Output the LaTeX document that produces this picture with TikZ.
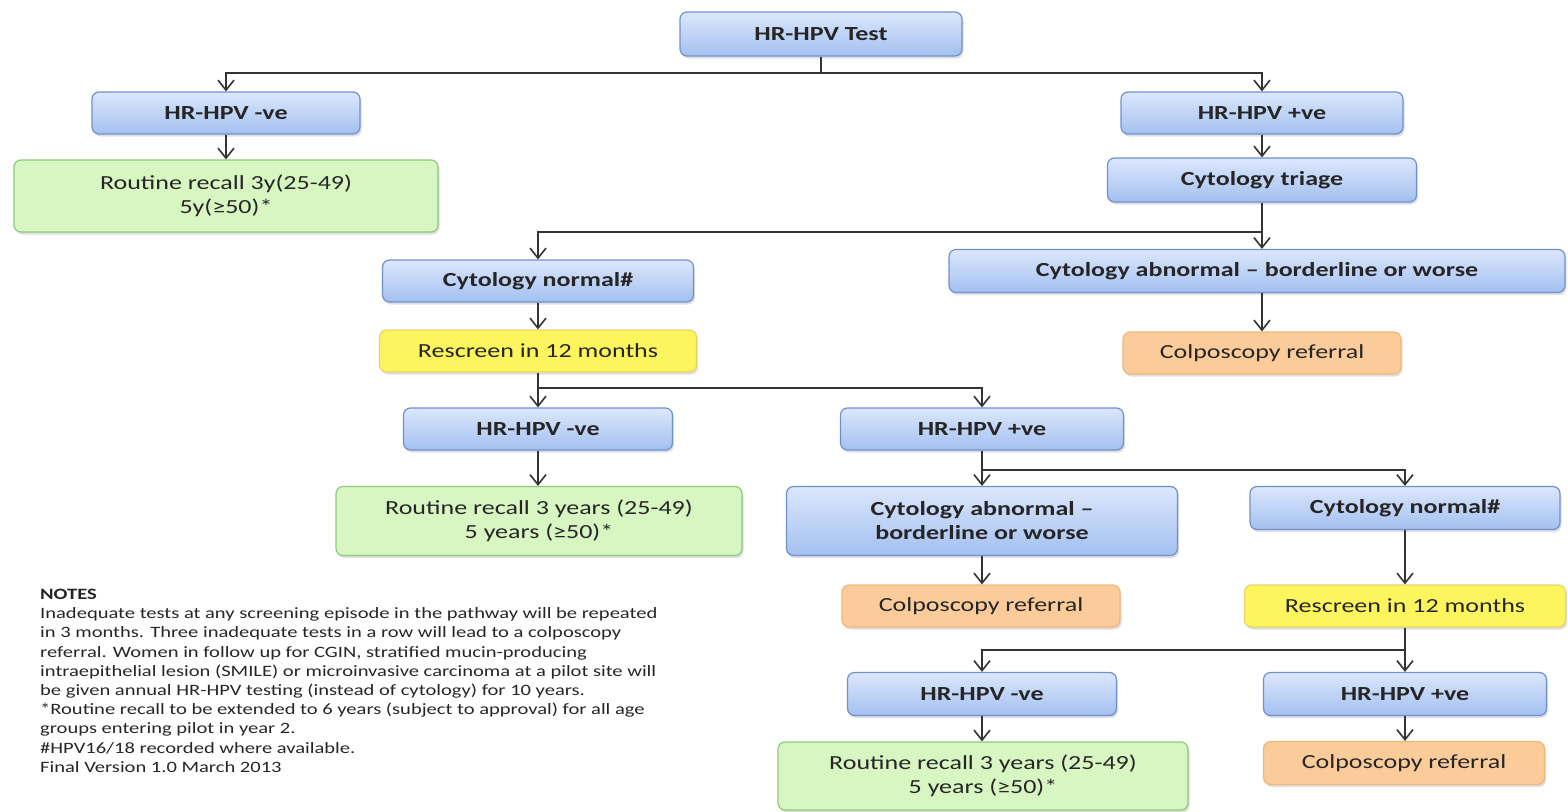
\documentclass[tikz,border=0pt]{standalone}
\usepackage{fontspec}
\setmainfont{Carlito}[FakeStretch=1.3]
\usetikzlibrary{arrows.meta,shadows}
\definecolor{txt}{HTML}{262626}
\definecolor{blueTop}{HTML}{DCE7FC}
\definecolor{blueBot}{HTML}{A3C0F0}
\definecolor{blueLine}{HTML}{6F90CE}
\definecolor{greenFill}{HTML}{D8F6C2}
\definecolor{greenLine}{HTML}{8CCB78}
\definecolor{yelFill}{HTML}{FDF55E}
\definecolor{yelLine}{HTML}{EBD36A}
\definecolor{orFill}{HTML}{FBCB99}
\definecolor{orLine}{HTML}{F1B778}
\definecolor{lineC}{HTML}{333333}
\tikzset{
  box/.style={rounded corners=7pt, line width=1.2pt, align=center, text=txt,
    inner sep=2pt, font=\fontsize{20}{24}\selectfont,
    drop shadow={shadow xshift=1.5pt, shadow yshift=-2.5pt, opacity=0.25}},
  bluebox/.style={box, draw=blueLine, top color=blueTop, bottom color=blueBot, font=\fontsize{20}{24}\selectfont\bfseries},
  greenbox/.style={box, draw=greenLine, fill=greenFill},
  yelbox/.style={box, draw=yelLine, fill=yelFill},
  orbox/.style={box, draw=orLine, fill=orFill},
  conn/.style={draw=lineC, line width=1.6pt},
  arr/.style={conn, -{Straight Barb[length=10pt,width=16pt,line width=1.6pt]}},
}
\begin{document}
\begin{tikzpicture}[x=1pt,y=-1pt]
\useasboundingbox (0,0) rectangle (1568,811);
% nodes
\node[bluebox, minimum width=282pt, minimum height=44pt] (test) at (821,34) {HR-HPV Test};
\node[bluebox, minimum width=268pt, minimum height=42pt] (neg1) at (226,113) {HR-HPV -ve};
\node[greenbox, minimum width=424pt, minimum height=72pt] (rr1) at (226,196) {Routine recall 3y(25-49)\\5y(≥50)*};
\node[bluebox, minimum width=282pt, minimum height=42pt] (pos1) at (1262,113) {HR-HPV +ve};
\node[bluebox, minimum width=309pt, minimum height=44pt] (triage) at (1262,180) {Cytology triage};
\node[bluebox, minimum width=311pt, minimum height=42pt] (cn1) at (538,281) {Cytology normal\#};
\node[bluebox, minimum width=616pt, minimum height=43pt] (abn1) at (1257,271) {Cytology abnormal – borderline or worse};
\node[orbox, minimum width=278pt, minimum height=42pt] (col1) at (1262,353) {Colposcopy referral};
\node[yelbox, minimum width=317pt, minimum height=42pt] (rs1) at (538,351) {Rescreen in 12 months};
\node[bluebox, minimum width=269pt, minimum height=42pt] (neg2) at (538,429) {HR-HPV -ve};
\node[greenbox, minimum width=406pt, minimum height=69pt] (rr2) at (539,521) {Routine recall 3 years (25-49)\\5 years (≥50)*};
\node[bluebox, minimum width=283pt, minimum height=42pt] (pos2) at (982,429) {HR-HPV +ve};
\node[bluebox, minimum width=391pt, minimum height=69pt] (abn2) at (982,521) {Cytology abnormal –\\borderline or worse};
\node[bluebox, minimum width=310pt, minimum height=43pt] (cn2) at (1405,508) {Cytology normal\#};
\node[orbox, minimum width=278pt, minimum height=42pt] (col2) at (981,606) {Colposcopy referral};
\node[yelbox, minimum width=321pt, minimum height=42pt] (rs2) at (1405,606) {Rescreen in 12 months};
\node[bluebox, minimum width=269pt, minimum height=43pt] (neg3) at (982,694) {HR-HPV -ve};
\node[greenbox, minimum width=410pt, minimum height=68pt] (rr3) at (983,776) {Routine recall 3 years (25-49)\\5 years (≥50)*};
\node[bluebox, minimum width=283pt, minimum height=43pt] (pos3) at (1405,694) {HR-HPV +ve};
\node[orbox, minimum width=281pt, minimum height=43pt] (col3) at (1404,763) {Colposcopy referral};
% notes
\node[anchor=north west, align=left, text=txt, inner sep=0pt,
  font=\fontsize{15.8}{19.2}\selectfont] (notes) at (40,589)
  {\textbf{NOTES}\\
  Inadequate tests at any screening episode in the pathway will be repeated\\
  in 3 months. Three inadequate tests in a row will lead to a colposcopy\\
  referral. Women in follow up for CGIN, stratified mucin-producing\\
  intraepithelial lesion (SMILE) or microinvasive carcinoma at a pilot site will\\
  be given annual HR-HPV testing (instead of cytology) for 10 years.\\
  *Routine recall to be extended to 6 years (subject to approval) for all age\\
  groups entering pilot in year 2.\\
  \#HPV16/18 recorded where available.\\
  Final Version 1.0 March 2013};
% junctions
\coordinate (j1) at (821,73);
\coordinate (j2) at (1262,232);
\coordinate (j3) at (538,388);
\coordinate (j4) at (982,470);
\coordinate (j5) at (1405,650);
% connectors
\draw[conn] (test.south) -- (j1);
\draw[arr] (j1) -| (neg1.north);
\draw[arr] (j1) -| (pos1.north);
\draw[arr] (neg1.south) -- (neg1.south|-rr1.north);
\draw[arr] (pos1.south) -- (pos1.south|-triage.north);
\draw[conn] (triage.south) -- (j2);
\draw[arr] (j2) -| (cn1.north);
\draw[arr] (j2) -- (j2|-abn1.north);
\draw[arr] (abn1.south-|col1.north) -- (col1.north);
\draw[arr] (cn1.south) -- (cn1.south|-rs1.north);
\draw[conn] (rs1.south) -- (j3);
\draw[arr] (j3) -- (j3|-neg2.north);
\draw[arr] (j3) -| (pos2.north);
\draw[arr] (neg2.south) -- (neg2.south|-rr2.north);
\draw[conn] (pos2.south) -- (j4);
\draw[arr] (j4) -- (j4|-abn2.north);
\draw[arr] (j4) -| (cn2.north);
\draw[arr] (abn2.south) -- (abn2.south|-col2.north);
\draw[arr] (cn2.south) -- (cn2.south|-rs2.north);
\draw[conn] (rs2.south) -- (j5);
\draw[arr] (j5) -| (neg3.north);
\draw[arr] (j5) -- (j5|-pos3.north);
\draw[arr] (neg3.south) -- (neg3.south|-rr3.north);
\draw[arr] (pos3.south) -- (pos3.south|-col3.north);
\end{tikzpicture}
\end{document}
